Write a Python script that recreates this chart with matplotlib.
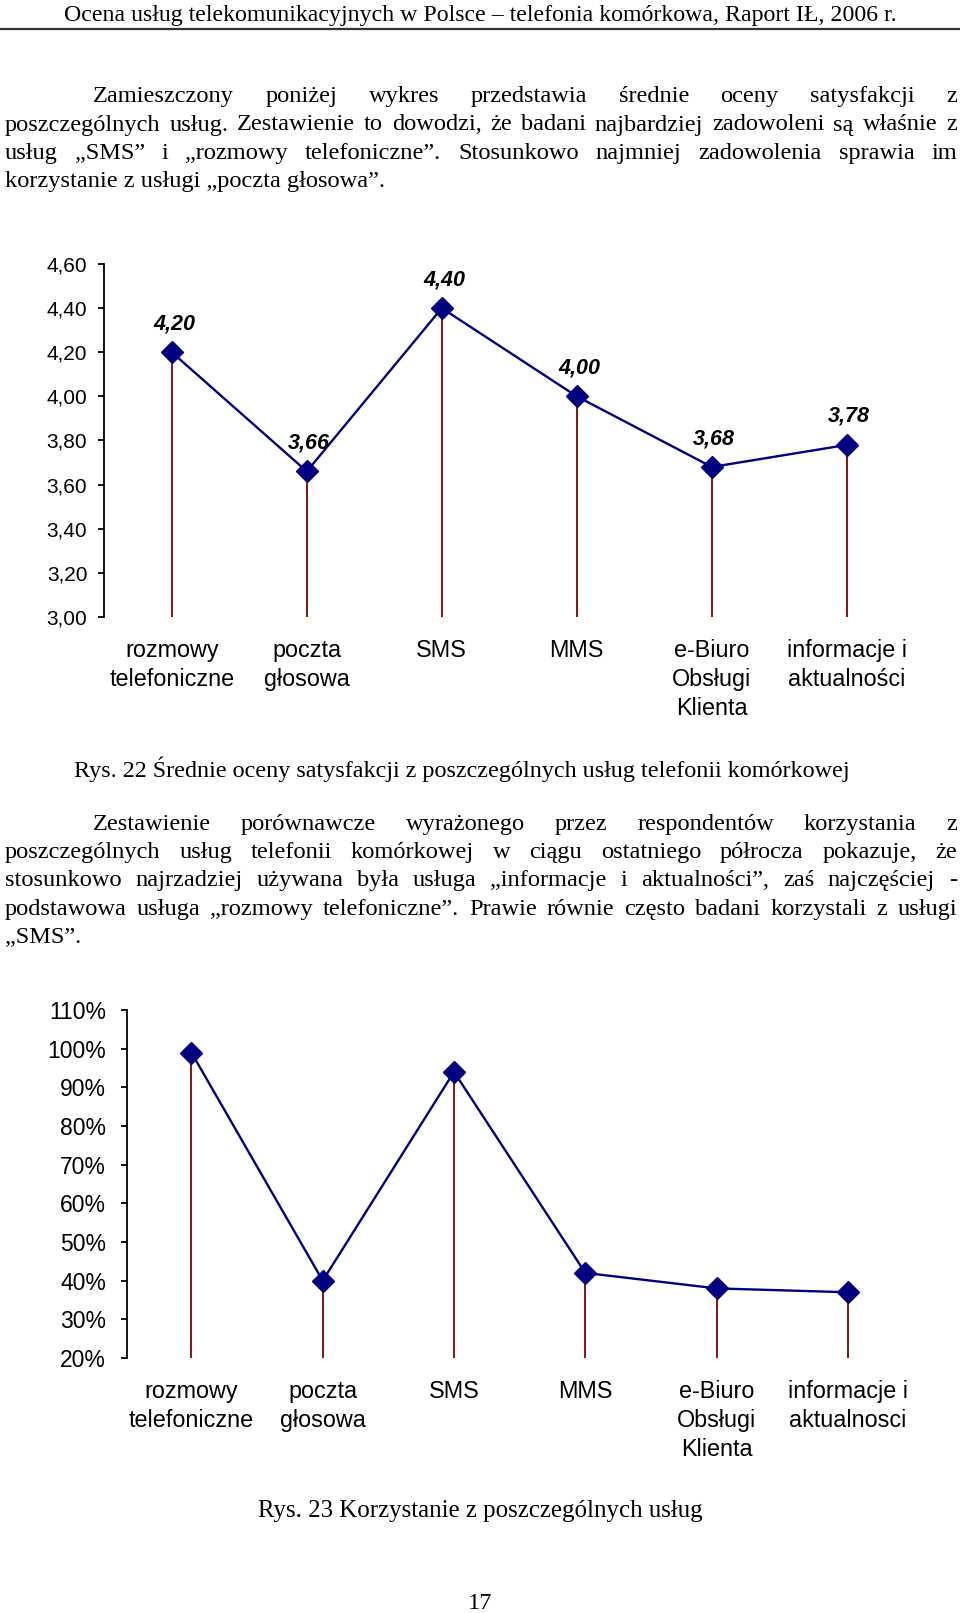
import matplotlib
matplotlib.use('Agg')
import matplotlib.pyplot as plt
from matplotlib.ticker import FuncFormatter
from matplotlib.lines import Line2D

# page size in pixels
W, H = 960, 1613

# data
categories1 = ['rozmowy\ntelefoniczne', 'poczta\ngłosowa', 'SMS', 'MMS',
               'e-Biuro\nObsługi\nKlienta', 'informacje i\naktualności']
ratings = [4.20, 3.66, 4.40, 4.00, 3.68, 3.78]
ticks1 = [3.00, 3.20, 3.40, 3.60, 3.80, 4.00, 4.20, 4.40, 4.60]

categories2 = ['rozmowy\ntelefoniczne', 'poczta\ngłosowa', 'SMS', 'MMS',
               'e-Biuro\nObsługi\nKlienta', 'informacje i\naktualnosci']
usage = [99, 40, 94, 42, 38, 37]
ticks2 = [20, 30, 40, 50, 60, 70, 80, 90, 100, 110]

header = 'Ocena usług telekomunikacyjnych w Polsce – telefonia komórkowa, Raport IŁ, 2006 r.'
para1 = ['Zamieszczony poniżej wykres przedstawia średnie oceny satysfakcji z',
         'poszczególnych usług. Zestawienie to dowodzi, że badani najbardziej zadowoleni są właśnie z',
         'usług „SMS” i „rozmowy telefoniczne”. Stosunkowo najmniej zadowolenia sprawia im',
         'korzystanie z usługi „poczta głosowa”.']
caption1 = 'Rys. 22 Średnie oceny satysfakcji z poszczególnych usług telefonii komórkowej'
para2 = ['Zestawienie porównawcze wyrażonego przez respondentów korzystania z',
         'poszczególnych usług telefonii komórkowej w ciągu ostatniego półrocza pokazuje, że',
         'stosunkowo najrzadziej używana była usługa „informacje i aktualności”, zaś najczęściej -',
         'podstawowa usługa „rozmowy telefoniczne”. Prawie równie często badani korzystali z usługi',
         '„SMS”.']
caption2 = 'Rys. 23 Korzystanie z poszczególnych usług'
page_no = '17'

SERIF = 'Liberation Serif'
SANS = 'Liberation Sans'
BODY = 17.6

fig = plt.figure(figsize=(W / 100, H / 100), dpi=100)
renderer = fig.canvas.get_renderer()


def ptext(x, y, s, **kw):
    # x, y in page pixels, y measured from the top
    kw.setdefault('family', SERIF)
    kw.setdefault('fontsize', BODY)
    kw.setdefault('va', 'baseline')
    return fig.text(x / W, 1 - y / H, s, **kw)


def justified(line, y, x0, x1):
    words = line.split(' ')
    texts = [ptext(0, y, w) for w in words]
    widths = [t.get_window_extent(renderer).width for t in texts]
    gap = (x1 - x0 - sum(widths)) / (len(words) - 1)
    x = x0
    for t, w in zip(texts, widths):
        t.set_x(x / W)
        x += w + gap


def paragraph(lines, y0, step, left=5, right=957, indent=93):
    for i, line in enumerate(lines):
        y = y0 + i * step
        x0 = indent if i == 0 else left
        if i == len(lines) - 1:
            ptext(x0, y, line)
        else:
            justified(line, y, x0, right)


# header
ptext(W / 2, 20.5, header, ha='center', fontsize=17.2)
fig.add_artist(Line2D([0, 1], [1 - 29 / H] * 2, transform=fig.transFigure,
                      color='#333333', lw=1.6))

paragraph(para1, 102, 28.5)
ptext(74, 777, caption1, fontsize=17.4)
paragraph(para2, 830, 28.2)
ptext(W / 2, 1517, caption2, ha='center', fontsize=17.9)
ptext(W / 2, 1609, page_no, ha='center')


def chart(box, cat0, step, values, cats, ylim, yticks, fmt, tick_size, tick_pad,
          labels=False):
    left, top, right, bottom = box
    ax = fig.add_axes([left / W, 1 - bottom / H, (right - left) / W, (bottom - top) / H])
    xs = list(range(len(values)))
    ax.set_xlim(-(cat0 - left) / step, (right - cat0) / step)
    ax.set_ylim(*ylim)
    ax.vlines(xs, ylim[0], values, color='#800000', lw=1.3, zorder=1)
    ax.plot(xs, values, color='#000080', lw=1.7, marker='D', markersize=11.5,
            markerfacecolor='#000080', markeredgecolor='#000080', zorder=3,
            clip_on=False)
    if labels:
        for x, v in zip(xs, values):
            ax.annotate(fmt(v), (x, v), xytext=(1.5, 20.5), textcoords='offset points',
                        ha='center', va='center', fontsize=15.5, family=SANS,
                        fontweight='bold', fontstyle='italic')
    for s in ['top', 'right', 'bottom']:
        ax.spines[s].set_visible(False)
    ax.spines['left'].set_linewidth(1.3)
    ax.set_yticks(yticks)
    ax.yaxis.set_major_formatter(FuncFormatter(lambda v, p: fmt(v)))
    ax.tick_params(axis='y', direction='out', length=4, width=1.3,
                   labelsize=tick_size, pad=tick_pad)
    ax.set_xticks(xs, cats)
    ax.tick_params(axis='x', length=0, pad=16, labelsize=16.8)
    for lab in ax.get_xticklabels():
        lab.set_family(SANS)
        lab.set_linespacing(1.34)
    for lab in ax.get_yticklabels():
        lab.set_family(SANS)
    ax.patch.set_alpha(0)
    return ax


chart((104, 264, 900, 617), 171.8, 135, ratings, categories1, (3.0, 4.6), ticks1,
      lambda v: f'{v:.2f}'.replace('.', ','), 15, 8, labels=True)
chart((127, 1010, 900, 1358), 191.4, 131.3, usage, categories2, (20, 110), ticks2,
      lambda v: f'{v:.0f}%', 16.5, 11)

fig.savefig('out.png', dpi=100)
